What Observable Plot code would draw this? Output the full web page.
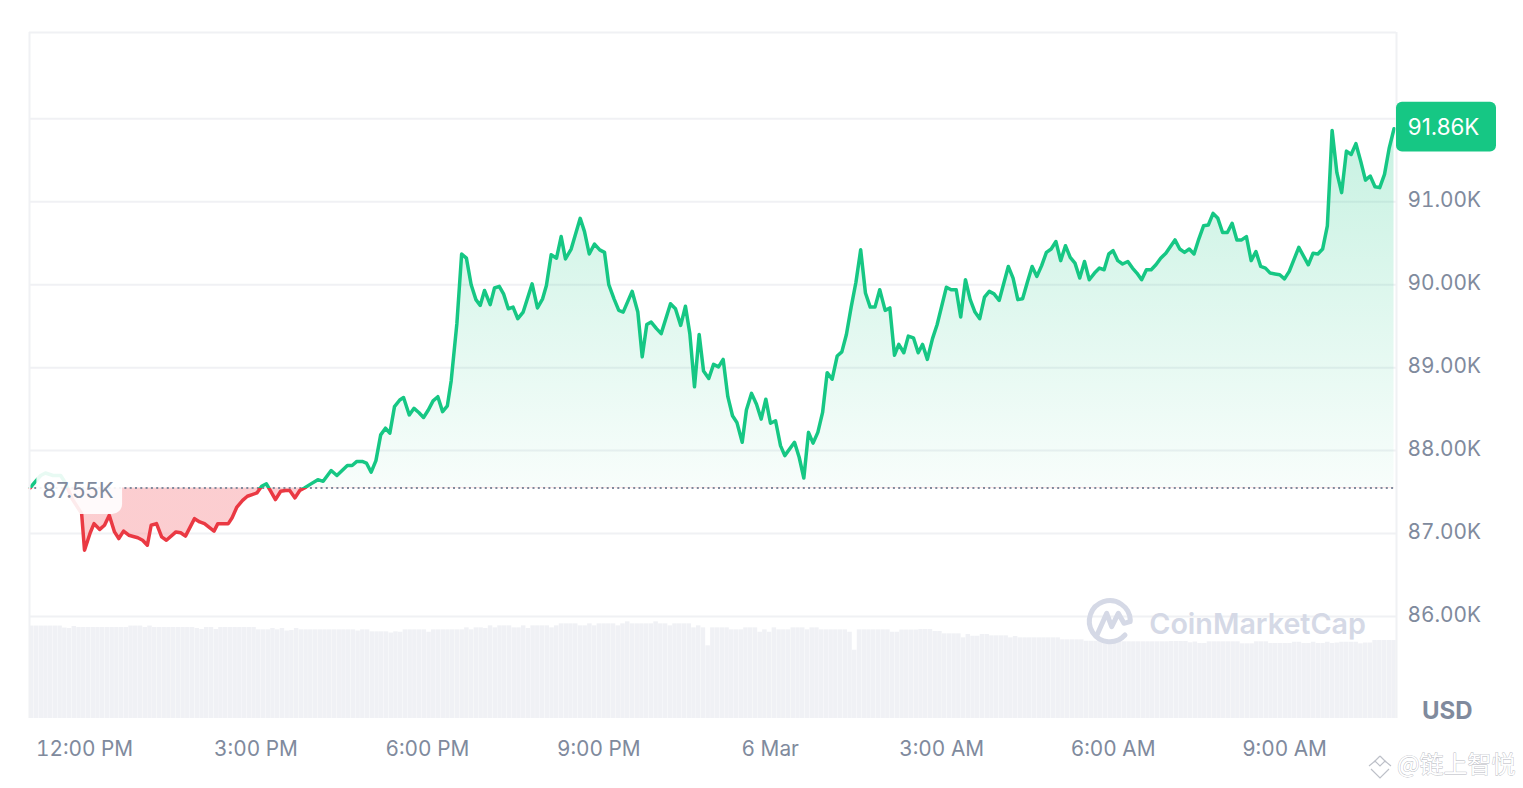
<!DOCTYPE html>
<html>
<head>
<meta charset="utf-8">
<style>html,body{margin:0;padding:0;background:#fff;overflow:hidden}svg{display:block}</style>
<script src="https://cdn.jsdelivr.net/npm/d3@7"></script>
<script src="https://cdn.jsdelivr.net/npm/@observablehq/plot@0.6"></script>
</head>
<body>
<div id="chart"></div>
<script>
// minutes after 12:00 PM
const minutes = [-57,-55,-46,-41,-33,-25,-20,-13,-3,0,6,10,16,21,26,31.5,36,41,46.5,56,61,66,70,75.6,81,86,96,101,106,115.5,121,126,136,140,146,151,155,160,166,171,176,181,186,191,195,200.5,206,211,215.5,221,226,231,236.5,245,250.6,259,265,276,281,286,291.6,296,301,306,311,316,320.6,325.5,331,335,341,346,351,356,361,366,371,376,381,385,391,396,401,406,411,415.5,420,426,430.5,435.5,440,445,450,455,460.6,470,475.6,481,485,490,495.6,500.5,505,511,520.5,525,530,535.5,541,546,550.5,556,561,565.6,575,581,585.6,590.4,595,600.6,605.5,615.3,620.5,626,631,635.6,640.5,645.4,650,655.5,660.5,665.7,670.6,675.5,680.4,685,690.6,695,700.4,705.6,710.5,715.4,720.3,725.6,730.8,735.3,745.5,750.4,755.3,760.2,765,770,775,779.8,785,790.3,795.2,800,805,810,815,820,825,830,835,840.7,845.6,850.5,855,860.3,865,870.4,875.4,880,885,890.4,895.3,905,910,915.3,920,925,930,935,940,945,950,955,960.4,970,975,980,985,990,995,1000,1005,1010,1015,1020,1025,1030,1035,1040,1045,1050,1055,1060.5,1065.7,1070.6,1075.5,1080,1085,1090,1095.5,1100.4,1105,1110,1115,1120,1125,1130,1135.4,1145,1150,1155,1160,1165,1170,1175,1180,1185,1190,1195,1200,1205,1210,1215,1220,1225,1230,1235,1240,1245,1250,1255,1260,1265,1275,1285,1290,1295,1300,1305,1310,1315,1320,1325,1330,1335,1340,1345,1350,1355,1360,1365,1370,1375];
// price, thousands of USD
const prices = [87.55,87.58,87.70,87.73,87.70,87.70,87.61,87.42,87.24,86.80,87.01,87.12,87.05,87.10,87.22,87.02,86.94,87.03,86.98,86.95,86.92,86.86,87.10,87.12,86.96,86.92,87.02,87.01,86.97,87.18,87.14,87.12,87.03,87.12,87.12,87.12,87.19,87.32,87.40,87.45,87.47,87.49,87.57,87.60,87.52,87.41,87.51,87.52,87.52,87.43,87.52,87.55,87.59,87.65,87.63,87.76,87.70,87.82,87.82,87.87,87.87,87.85,87.74,87.88,88.19,88.27,88.21,88.53,88.61,88.64,88.43,88.51,88.46,88.40,88.49,88.60,88.65,88.47,88.54,88.84,89.53,90.37,90.32,90.00,89.82,89.75,89.93,89.76,89.96,89.98,89.89,89.71,89.73,89.59,89.67,90.01,89.72,89.83,89.99,90.36,90.32,90.58,90.31,90.43,90.80,90.64,90.37,90.49,90.42,90.39,90.00,89.83,89.69,89.67,89.92,89.67,89.13,89.52,89.55,89.47,89.41,89.77,89.71,89.51,89.74,89.41,88.77,89.40,88.96,88.87,89.04,89.01,89.10,88.65,88.42,88.34,88.10,88.49,88.69,88.56,88.38,88.62,88.33,88.36,88.06,87.94,88.10,87.92,87.67,88.22,88.09,88.22,88.46,88.94,88.86,89.14,89.19,89.40,89.73,90.03,90.42,89.90,89.73,89.73,89.94,89.69,89.72,89.15,89.28,89.18,89.38,89.36,89.18,89.28,89.10,89.35,89.52,89.97,89.94,89.94,89.61,90.06,89.82,89.67,89.59,89.85,89.92,89.89,89.81,90.22,90.08,89.82,89.83,90.03,90.22,90.10,90.23,90.39,90.43,90.52,90.29,90.47,90.33,90.26,90.08,90.28,90.06,90.14,90.20,90.18,90.37,90.41,90.29,90.25,90.28,90.20,90.14,90.06,90.18,90.18,90.24,90.32,90.38,90.54,90.43,90.39,90.43,90.37,90.55,90.71,90.72,90.86,90.80,90.63,90.63,90.74,90.54,90.54,90.58,90.29,90.40,90.22,90.20,90.14,90.13,90.12,90.07,90.16,90.45,90.24,90.38,90.37,90.43,90.71,91.86,91.35,91.11,91.61,91.57,91.70,91.49,91.26,91.31,91.18,91.17,91.33,91.65,91.88];
// relative volume, one bar every five minutes
const volumes = [92.5,92.5,92.5,92.5,92.5,92.5,92.5,90.5,90,92,91,91,91,91,91,91,91,91,91,91,91,92.5,92.5,92.5,91,92.5,91,91,91,91,91,91,91,91,91,90,89,91,91,89,91,91,91,91,91,91,91,91,88.7,88.7,88.7,90,88.7,90,87.5,88,90,88.7,88.7,88.7,88.7,88.7,88.7,88.7,88.7,88.7,88.7,88.7,88.7,87.5,88.7,88.7,86.7,86.7,86.7,86.7,85.5,86.7,
86.3,88.7,88.7,88.7,88.7,88.7,86.3,88.7,88.7,88.7,88.7,88.7,88.7,88.7,90.7,88.7,90.7,90.7,90,92.7,90.7,92.7,92.7,92.7,90.7,90.7,92.7,90,92.7,92.7,92.7,92.7,90.7,92.7,94.7,94.7,94.7,94.7,92.7,92.7,94.7,92.7,94.7,94.7,94.7,94.7,92.7,94.7,96.7,94.7,94.7,94.7,94.7,94.7,96.7,94.7,94.7,92.7,94.7,94.7,94.7,94.7,90.7,92.7,90.7,72.7,90.7,90.7,90.7,90.7,88.7,88.7,88.7,90.7,90.7,90.7,86.3,88.7,86.3,90.7,88.7,88.7,88.7,90.7,90.7,90.7,88.7,90.7,90.7,88.7,88.7,88.7,88.7,88.7,88.7,86.3,68.3,88.7,88.7,88.7,88.7,88.7,88.7,88.7,86.3,86.3,
88.5,88.5,88.5,88.5,89,89,89,87,87,84.7,84.7,84.7,84.7,80.7,84,82.3,82.3,84,84,82.7,82.7,82.7,82.7,80.7,82,80.7,80.7,80.7,80.7,80.7,80.7,80.7,80.7,80.7,78.7,78.7,78.7,78.7,78.7,77.3,77.3,77.3,77.3,77.3,77.3,77.3,77.3,76.7,76.7,76.7,76.7,76.7,76.7,76.7,76.7,76.7,76.7,77,77,77,77,75.7,76.5,75,75,76.7,76.7,76.7,76.7,76.7,76.7,76.7,74.7,74.7,74.7,76.7,76.7,76.7,75,75,75,75,75,76.3,76.3,75,75,76.3,75,75,76.3,75,75.5,76.3,76.3,76.3,76.3,74.7,75.5,75.5,78,78,78,78,78];
const gridValues = [86,87,88,89,90,91,92,93.04];
const yTicks = [86,87,88,89,90,91];
const xTickMinutes = [0,180,360,540,720,900,1080,1260];
const xTickLabels = ["12:00 PM","3:00 PM","6:00 PM","9:00 PM","6 Mar","3:00 AM","6:00 AM","9:00 AM"];
const baseline = 87.55;
const lastPrice = 91.86;

const xDomain = [-57.75, 1377.6];
const yDomain = [84.771, 93.04];
const bottom = yDomain[0];
const volumeUnit = 1 / 83;          // share of the price axis taken by one volume unit
const barStep = (xDomain[1] - xDomain[0]) / volumes.length;
const grey = "#808a9d", green = "#16c784", red = "#ea3943";

const series = minutes.map((m, i) => ({m, p: prices[i]}));
const bars = volumes.map((v, i) => ({i, v}));
const maxP = d3.max(prices), minP = d3.min(prices);
const split = (maxP - baseline) / (maxP - minP);

function gradients() {
  const defs = d3.create("svg:defs");
  const stroke = defs.append("linearGradient").attr("id", "strokeSplit").attr("x1", 0).attr("x2", 0).attr("y1", 0).attr("y2", 1);
  [[0, green], [split, green], [split, red], [1, red]].forEach(([o, c]) =>
    stroke.append("stop").attr("offset", o).attr("stop-color", c));
  const fill = defs.append("linearGradient").attr("id", "fillSplit").attr("x1", 0).attr("x2", 0).attr("y1", 0).attr("y2", 1);
  [[0, green, .24], [split, green, .03], [split, "#f9a5aa", .55], [1, "#f9a5aa", .55]].forEach(([o, c, a]) =>
    fill.append("stop").attr("offset", o).attr("stop-color", c).attr("stop-opacity", a));
  return defs.node();
}

function logo() {
  const g = d3.create("svg:g").attr("fill", "none").attr("stroke", "#d5d9e6").attr("stroke-width", 5)
    .attr("stroke-linecap", "round").attr("stroke-linejoin", "round");
  g.append("path").attr("d", "M1125,635 A20.5,20.5 0 1 1 1130.3,620");
  g.append("path").attr("d", "M1097,635 L1106.7,613.3 L1111.7,626.7 L1118.3,613.3 L1124,623.3 L1130,621.7");
  return g.node();
}

function binanceIcon() {
  const g = d3.create("svg:g").attr("fill", "none").attr("stroke", "#bdc0c8").attr("stroke-width", 1.2);
  g.append("path").attr("d", "M1380,756 L1386,762 M1380,756 L1374,762");
  g.append("path").attr("d", "M1369,766 L1375,761 L1380,766 L1385,761 L1391,766");
  g.append("path").attr("d", "M1371,769 L1380,778 L1389,769");
  return g.node();
}

const chart = Plot.plot({
  width: 1523,
  height: 788,
  marginLeft: 29, marginRight: 127, marginTop: 32, marginBottom: 70,
  style: {fontFamily: "Inter, sans-serif", background: "#fff", overflow: "visible"},
  x: {domain: xDomain},
  y: {domain: yDomain},
  marks: [
    gradients,
    Plot.ruleY(gridValues, {stroke: "#f0f1f4", strokeWidth: 2}),
    Plot.rect(bars, {
      x1: d => xDomain[0] + d.i * barStep,
      x2: d => xDomain[0] + d.i * barStep + 4.7,
      y1: bottom,
      y2: d => bottom + d.v * volumeUnit,
      fill: "#f0f1f5"
    }),
    Plot.areaY(series, {x: "m", y1: baseline, y2: "p", fill: "url(#fillSplit)"}),
    Plot.ruleY([baseline], {stroke: grey, strokeWidth: 2, strokeDasharray: "2 3.3"}),
    Plot.line(series, {x: "m", y: "p", stroke: "url(#strokeSplit)", strokeWidth: 3.5}),
    Plot.rect([0], {x1: -50, x2: 40, y1: 87.23, y2: 87.83, fill: "#fff", fillOpacity: .9, rx: 10}),
    Plot.ruleX([xDomain[0], xDomain[1]], {y1: bottom, y2: yDomain[1], stroke: "#f0f1f4", strokeWidth: 2}),
    Plot.text(["87.55K"], {x: -44, y: baseline - .04, text: d => d, textAnchor: "start", fill: grey, fontSize: 22}),
    Plot.rect([0], {x1: 1377.6, x2: 1482.6, y1: 91.6, y2: 92.2, fill: green, rx: 6}),
    Plot.text([lastPrice], {x: 1389.5, y: 91.89, text: d => d.toFixed(2) + "K", textAnchor: "start", fill: "#fff", fontSize: 22.3}),
    Plot.axisY({ticks: yTicks, anchor: "right", tickSize: 0, tickPadding: 11, dy: -1, tickFormat: d => d.toFixed(2) + "K", label: null, fill: grey, fontSize: 20.8}),
    Plot.axisX({ticks: xTickMinutes, tickSize: 0, tickPadding: 23, tickFormat: d => xTickLabels[xTickMinutes.indexOf(d)], label: null, fill: grey, fontSize: 20.8}),
    Plot.text(["USD"], {x: 1431, y: 84.86, text: d => d, fill: grey, fontSize: 24, fontWeight: 700}),
    logo,
    Plot.text(["CoinMarketCap"], {x: 1118, y: 85.9, text: d => d, textAnchor: "start", fill: "#d5d9e6", fontSize: 28.7, fontWeight: 600}),
    binanceIcon,
    Plot.text(["@链上智悦"], {x: 1378, y: 84.205, text: d => d, textAnchor: "start", fontFamily: "Noto Sans CJK SC", fill: "#fff", stroke: "#b5b8c0", strokeWidth: .8, fontSize: 24})
  ]
});
document.getElementById("chart").append(chart);
</script>
</body>
</html>
